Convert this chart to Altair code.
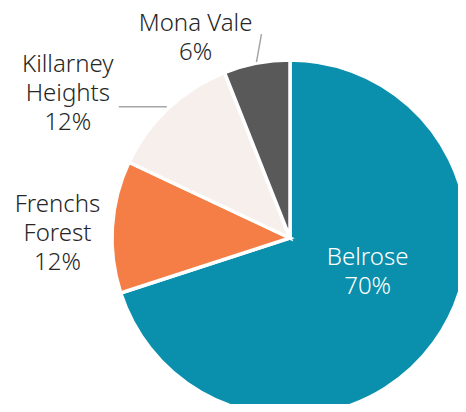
import altair as alt
import pandas as pd

categories = ["Belrose", "Frenchs Forest", "Killarney Heights", "Mona Vale"]
display_names = ["Belrose", "Frenchs\nForest", "Killarney\nHeights", "Mona Vale"]
values = [70, 12, 12, 6]
colors = ["#0A8FAD", "#F47E46", "#F7EFEC", "#595959"]

df = pd.DataFrame({
    "category": categories,
    "name": display_names,
    "value": values,
    "order": list(range(len(categories))),
})

CX, CY, R = 282, 230, 178
FONT = "Noto Sans"
LINE_H = 29

base = (
    alt.Chart(df)
    .transform_window(cum="sum(value)", sort=[alt.SortField("order")], frame=[None, 0])
    .transform_joinaggregate(total="sum(value)")
    .transform_calculate(t1="2*PI*datum.cum/datum.total")
    .transform_calculate(t0="2*PI*(datum.cum-datum.value)/datum.total")
    .transform_calculate(mid="(datum.t0+datum.t1)/2")
    .transform_calculate(label="datum.name + '\\n' + datum.value + '%'")
)

pie = base.mark_arc(outerRadius=R, stroke="white", strokeWidth=3.5, x=CX, y=CY).encode(
    theta=alt.Theta("t0:Q", scale=None),
    theta2="t1:Q",
    color=alt.Color("category:N", scale=alt.Scale(domain=categories, range=colors), legend=None),
)

def label_layers(cat, radius, dx, dy, color):
    n_lines = display_names[categories.index(cat)].count("\n") + 2
    layers = []
    for i in range(n_lines):
        layers.append(
            base.transform_filter(alt.datum.category == cat)
            .transform_calculate(line=f"split(datum.label, '\\n')[{i}]")
            .mark_text(
                radius=radius, dx=dx, dy=dy + i * LINE_H, x=CX, y=CY,
                font=FONT, fontSize=24, fontWeight=300, color=color,
                align="center", baseline="middle",
            )
            .encode(theta=alt.Theta("mid:Q", scale=None), text="line:N")
        )
    return layers

labels = (
    label_layers("Belrose", 70, 21, -21, "white")
    + label_layers("Frenchs Forest", 233, 0, -18, "#262626")
    + label_layers("Killarney Heights", 196, -88, -30, "#262626")
    + label_layers("Mona Vale", 205, -56, -13, "#262626")
)

def leader(cat, r, ddx, ddy):
    return (
        base.transform_filter(alt.datum.category == cat)
        .transform_calculate(lx=f"{CX} + {r}*sin(datum.mid)", ly=f"{CY} - {r}*cos(datum.mid)")
        .transform_calculate(lx2=f"datum.lx + {ddx}", ly2=f"datum.ly + {ddy}")
        .mark_rule(color="#A6A6A6", strokeWidth=1.5)
        .encode(
            x=alt.X("lx:Q", scale=None),
            y=alt.Y("ly:Q", scale=None),
            x2="lx2:Q",
            y2="ly2:Q",
        )
    )

leaders = [
    leader("Killarney Heights", 180, -48, 0),
    leader("Mona Vale", 179, 5, -28),
]

chart = alt.layer(pie, *leaders, *labels).properties(
    width=450, height=396, padding=0, autosize=alt.AutoSizeParams(type="none")
).configure_view(stroke=None)

chart.save("out.html", embed_options={"renderer": "svg", "actions": False})
